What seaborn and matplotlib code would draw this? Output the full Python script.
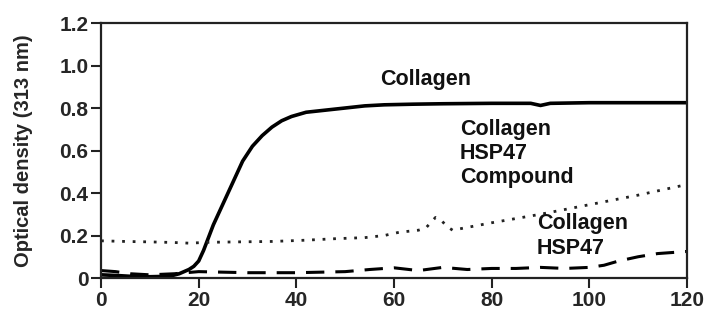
import matplotlib
matplotlib.use("Agg")
import matplotlib.pyplot as plt
import seaborn as sns
import pandas as pd

# --- data (time in min, optical density at 313 nm) ---
t_collagen = [0, 3, 6, 10, 14, 16, 18, 19, 20, 21, 22, 23, 25, 27, 29, 31, 33, 35, 37, 39,
              42, 46, 50, 54, 58, 64, 70, 80, 88, 90, 92, 100, 110, 120]
od_collagen = [0.015, 0.012, 0.008, 0.006, 0.008, 0.02, 0.04, 0.055, 0.08, 0.13, 0.19, 0.25,
               0.35, 0.45, 0.55, 0.62, 0.67, 0.71, 0.74, 0.76, 0.78, 0.79, 0.80, 0.81, 0.815,
               0.818, 0.82, 0.822, 0.822, 0.812, 0.822, 0.825, 0.825, 0.825]

t_compound = [0, 5, 10, 15, 18, 22, 28, 35, 42, 48, 54, 58, 61, 65, 66.5, 68.5, 69.5, 71,
              72, 80, 90, 100, 110, 120]
od_compound = [0.175, 0.172, 0.17, 0.167, 0.164, 0.168, 0.17, 0.172, 0.178, 0.185, 0.19,
               0.2, 0.215, 0.225, 0.235, 0.285, 0.275, 0.24, 0.225, 0.26, 0.30, 0.345,
               0.39, 0.44]

t_hsp47 = [0, 3, 6, 10, 15, 20, 30, 40, 50, 55, 60, 65, 70, 75, 80, 85, 90, 95, 100, 103,
           106, 110, 114, 120]
od_hsp47 = [0.035, 0.03, 0.02, 0.015, 0.02, 0.03, 0.025, 0.025, 0.03, 0.04, 0.048, 0.035,
            0.05, 0.04, 0.045, 0.045, 0.05, 0.045, 0.05, 0.06, 0.08, 0.10, 0.115, 0.125]

y_ticks = [0, 0.2, 0.4, 0.6, 0.8, 1.0, 1.2]
y_tick_labels = ["0", "0.2", "0.4", "0.6", "0.8", "1.0", "1.2"]
x_ticks = [0, 20, 40, 60, 80, 100, 120]

labels = ["Collagen", "Collagen\nHSP47\nCompound", "Collagen\nHSP47"]
label_pos = [(57.1, 0.934), (73.5, 0.585), (89.3, 0.198)]

sns.set_style("ticks")
plt.rcParams['font.family'] = ['Liberation Sans', 'DejaVu Sans']
plt.rcParams['font.weight'] = 'bold'

fig, ax = plt.subplots(figsize=(7.13, 3.10), dpi=100)
fig.subplots_adjust(left=0.1417, right=0.9635, bottom=0.1032, top=0.9258)

sns.lineplot(x=t_collagen, y=od_collagen, ax=ax, color="black", linewidth=2.6,
             linestyle="-")
sns.lineplot(x=t_compound, y=od_compound, ax=ax, color="#222222", linewidth=2.0,
             linestyle=(0, (1, 2.8)))
sns.lineplot(x=t_hsp47, y=od_hsp47, ax=ax, color="black", linewidth=2.2,
             linestyle=(0, (6, 3.6)))

for txt, (x, y) in zip(labels, label_pos):
    ax.text(x, y, txt, ha="left", va="center", fontsize=15.5, fontweight="bold",
            linespacing=1.2, color="#111111")

ax.set_xlim(0, 120)
ax.set_ylim(0, 1.2)
ax.set_xticks(x_ticks)
ax.set_xticklabels([str(v) for v in x_ticks])
ax.set_yticks(y_ticks)
ax.set_yticklabels(y_tick_labels)
ax.tick_params(axis="both", labelsize=15, direction="out", length=7, width=1.5,
               color="#222222", pad=2)
for s in ax.spines.values():
    s.set_visible(True)
    s.set_linewidth(1.6)
    s.set_color("#222222")

ax.set_ylabel("Optical density (313 nm)", fontsize=14.5, fontweight="bold", labelpad=19)
ax.set_xlabel("")

plt.savefig("out.png", dpi=100)
